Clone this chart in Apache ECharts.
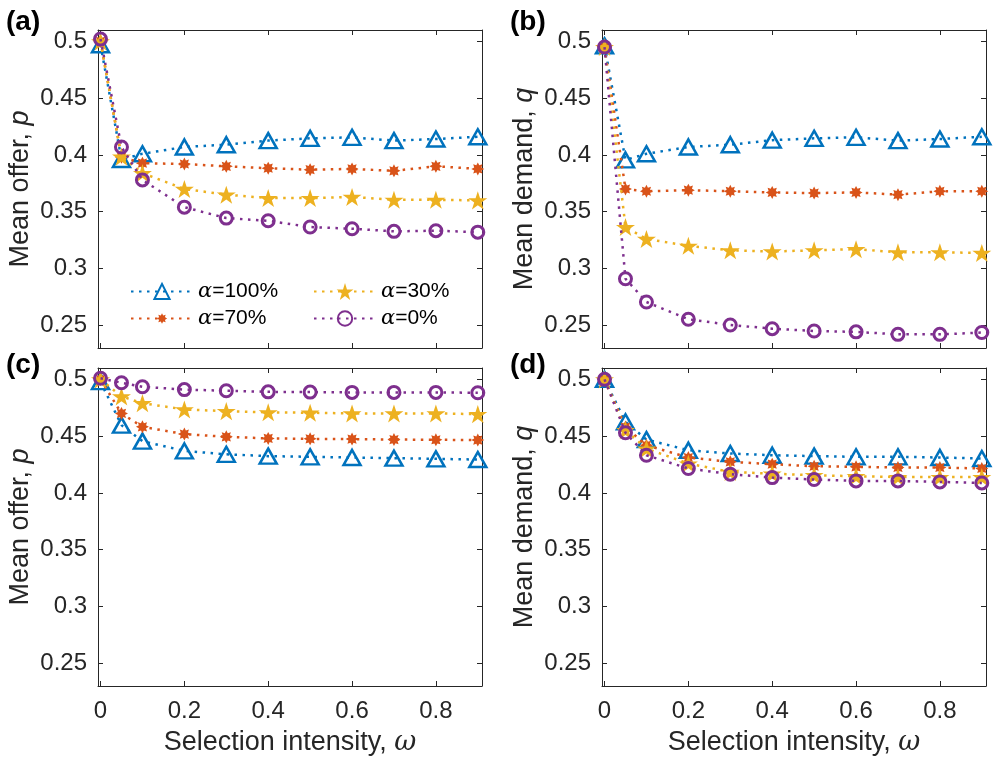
<!DOCTYPE html>
<html>
<head>
<meta charset="utf-8">
<script src="https://cdn.jsdelivr.net/npm/echarts@6/dist/echarts.min.js"></script>
<style>html,body{margin:0;padding:0;background:#fff}#c{width:1001px;height:767px}</style>
</head>
<body>
<div id="c"></div>
<script>
// ---- data ----
const xValues = [0, 0.05, 0.1, 0.2, 0.3, 0.4, 0.5, 0.6, 0.7, 0.8, 0.9];
const seriesNames = ['α=100%', 'α=70%', 'α=30%', 'α=0%'];
const xTicks = [0, 0.2, 0.4, 0.6, 0.8];
const yTicks = [0.25, 0.3, 0.35, 0.4, 0.45, 0.5];
const panelLabels = ['(a)', '(b)', '(c)', '(d)'];
const yNames = ['Mean offer, ', 'Mean demand, ', 'Mean offer, ', 'Mean demand, '];
const yVars = ['p', 'q', 'p', 'q'];

// panel (a): mean offer p
const a100 = [0.497, 0.396, 0.401, 0.407, 0.409, 0.4126, 0.4146, 0.4155, 0.4126, 0.414, 0.416];
const a70  = [0.500, 0.398, 0.3927, 0.392, 0.390, 0.3883, 0.387, 0.3877, 0.386, 0.390, 0.3877];
const a30  = [0.500, 0.3985, 0.384, 0.370, 0.365, 0.362, 0.362, 0.363, 0.3605, 0.3605, 0.360];
const a0   = [0.502, 0.407, 0.378, 0.354, 0.3444, 0.342, 0.3365, 0.335, 0.3327, 0.3333, 0.332];
// panel (b): mean demand q
const b100 = [0.496, 0.3956, 0.401, 0.407, 0.409, 0.413, 0.4146, 0.4155, 0.4126, 0.414, 0.416];
const b70  = [0.495, 0.370, 0.368, 0.369, 0.368, 0.367, 0.3664, 0.367, 0.365, 0.368, 0.368];
const b30  = [0.495, 0.3365, 0.326, 0.320, 0.316, 0.315, 0.316, 0.317, 0.3143, 0.3143, 0.3137];
const b0   = [0.495, 0.291, 0.2705, 0.2553, 0.2503, 0.247, 0.245, 0.2442, 0.242, 0.242, 0.2436];
// panel (c): mean offer p
const c100 = [0.498, 0.4597, 0.4456, 0.437, 0.434, 0.4324, 0.4318, 0.4312, 0.4306, 0.430, 0.4294];
const c70  = [0.500, 0.470, 0.4582, 0.4518, 0.4494, 0.448, 0.4476, 0.4474, 0.447, 0.4468, 0.4465];
const c30  = [0.500, 0.485, 0.479, 0.4735, 0.472, 0.471, 0.4706, 0.470, 0.470, 0.470, 0.4694];
const c0   = [0.501, 0.497, 0.4935, 0.491, 0.490, 0.489, 0.4888, 0.4885, 0.4885, 0.4885, 0.4882];
// panel (d): mean demand q
const d100 = [0.500, 0.4626, 0.447, 0.4376, 0.4347, 0.4332, 0.4324, 0.4318, 0.4318, 0.4312, 0.4303];
const d70  = [0.500, 0.458, 0.442, 0.4312, 0.4274, 0.4253, 0.4235, 0.423, 0.4224, 0.4224, 0.4215];
const d30  = [0.500, 0.4553, 0.439, 0.4259, 0.4185, 0.417, 0.4156, 0.4147, 0.414, 0.414, 0.414];
const d0   = [0.500, 0.453, 0.4332, 0.4215, 0.4165, 0.4135, 0.4118, 0.4106, 0.4106, 0.4097, 0.4088];

const panels = [[a100, a70, a30, a0], [b100, b70, b30, b0], [c100, c70, c30, c0], [d100, d70, d30, d0]];

// ---- style ----
const FONT = 'Liberation Sans, Arial, Helvetica, sans-serif';
const AX = '#262626';
const colors = ['#0072BD', '#D95319', '#EDB120', '#7E2F8E'];
const ASTERISK = 'path://M20,10L15.54,12.3L17.07,17.07L12.3,15.54L10,20L7.7,15.54L2.93,17.07L4.46,12.3L0,10L4.46,7.7L2.93,2.93L7.7,4.46L10,0L12.3,4.46L17.07,2.93L15.54,7.7Z';
const STAR = 'path://M10,0L12.25,6.91L19.51,6.91L13.63,11.18L15.88,18.09L10,13.82L4.12,18.09L6.37,11.18L0.49,6.91L7.75,6.91Z';
const markers = [
  {symbol: 'triangle', size: [17, 15], item: {color: 'rgba(255,255,255,0)', borderColor: colors[0], borderWidth: 2.5}},
  {symbol: ASTERISK, size: 13, item: {color: colors[1], borderWidth: 0}},
  {symbol: STAR, size: 19, item: {color: colors[2], borderWidth: 0}},
  {symbol: 'circle', size: 12, item: {color: 'rgba(255,255,255,0)', borderColor: colors[3], borderWidth: 3}}
];

const grids = [
  {left: 98, top: 30, width: 384, height: 318},
  {left: 602, top: 30, width: 384, height: 318},
  {left: 98, top: 368, width: 384, height: 318},
  {left: 602, top: 368, width: 384, height: 318}
];
const XMIN = -0.006, XMAX = 0.91, YMIN = 0.23, YMAX = 0.51;

const xAxes = [], yAxes = [], series = [];
grids.forEach((g, i) => {
  const showX = i >= 2;
  xAxes.push({
    type: 'value', gridIndex: i, min: XMIN, max: XMAX, position: 'bottom',
    axisLine: {show: true, onZero: false, lineStyle: {color: AX, width: 1}},
    axisTick: {show: true, inside: true, length: 5, customValues: xTicks, lineStyle: {color: AX}},
    axisLabel: {show: showX, customValues: xTicks, margin: 13, fontSize: 24, color: AX, fontFamily: FONT},
    splitLine: {show: false},
    name: showX ? 'Selection intensity, {i|ω}' : '',
    nameLocation: 'middle', nameGap: 43,
    nameTextStyle: {fontSize: 27, color: AX, fontFamily: FONT,
      rich: {i: {fontSize: 27, fontStyle: 'italic', color: AX, fontFamily: 'DejaVu Serif, serif'}}}
  });
  xAxes.push({
    type: 'value', gridIndex: i, min: XMIN, max: XMAX, position: 'top',
    axisLine: {show: true, onZero: false, lineStyle: {color: AX, width: 1}},
    axisTick: {show: true, inside: true, length: 5, customValues: xTicks, lineStyle: {color: AX}},
    axisLabel: {show: false}, splitLine: {show: false}
  });
  yAxes.push({
    type: 'value', gridIndex: i, min: YMIN, max: YMAX, position: 'left',
    axisLine: {show: true, onZero: false, lineStyle: {color: AX, width: 1}},
    axisTick: {show: true, inside: true, length: 5, customValues: yTicks, lineStyle: {color: AX}},
    axisLabel: {show: true, customValues: yTicks, margin: 11, fontSize: 24, color: AX, fontFamily: FONT},
    splitLine: {show: false},
    name: yNames[i] + '{i|' + yVars[i] + '}',
    nameLocation: 'middle', nameGap: 64,
    nameTextStyle: {fontSize: 27, color: AX, fontFamily: FONT,
      rich: {i: {fontSize: 27, fontStyle: 'italic', color: AX, fontFamily: FONT}}}
  });
  yAxes.push({
    type: 'value', gridIndex: i, min: YMIN, max: YMAX, position: 'right',
    axisLine: {show: true, onZero: false, lineStyle: {color: AX, width: 1}},
    axisTick: {show: true, inside: true, length: 5, customValues: yTicks, lineStyle: {color: AX}},
    axisLabel: {show: false}, splitLine: {show: false}
  });
  panels[i].forEach((vals, k) => {
    series.push({
      type: 'line', name: seriesNames[k],
      xAxisIndex: 2 * i, yAxisIndex: 2 * i,
      data: xValues.map((x, j) => [x, vals[j]]),
      symbol: markers[k].symbol, symbolSize: markers[k].size, symbolKeepAspect: true,
      showAllSymbol: true,
      itemStyle: markers[k].item,
      lineStyle: {color: colors[k], width: 2.5, type: [2.5, 5.5]},
      emphasis: {disabled: true},
      z: 2 + k
    });
  });
});

const legendOrder = ['α=100%', 'α=70%', 'α=30%', 'α=0%'];
const legendPos = [
  {left: 130, top: 281, h: 19}, {left: 130, top: 308, h: 13},
  {left: 313, top: 281, h: 21}, {left: 313, top: 308, h: 18}
];
const legends = legendOrder.map((n, k) => ({
  data: [n], left: legendPos[k].left, top: legendPos[k].top, padding: 0,
  itemWidth: 62, itemHeight: legendPos[k].h, selectedMode: false,
  formatter: s => '{i|α}' + s.slice(1),
  textStyle: {fontSize: 21, color: '#000', fontFamily: FONT,
    rich: {i: {fontSize: 21, fontStyle: 'italic', color: '#000', fontFamily: 'DejaVu Serif, serif'}}}
}));

const titlePos = [[6, 8], [510, 8], [6, 351], [510, 351]];
const titles = panelLabels.map((t, i) => ({
  text: t, left: titlePos[i][0], top: titlePos[i][1], padding: 0,
  textStyle: {fontSize: 28, fontWeight: 'bold', color: '#000', fontFamily: FONT}
}));

const chart = echarts.init(document.getElementById('c'), null, {renderer: 'canvas'});
chart.setOption({
  animation: false,
  backgroundColor: '#fff',
  title: titles,
  legend: legends,
  grid: grids,
  xAxis: xAxes,
  yAxis: yAxes,
  series: series
});
</script>
</body>
</html>
